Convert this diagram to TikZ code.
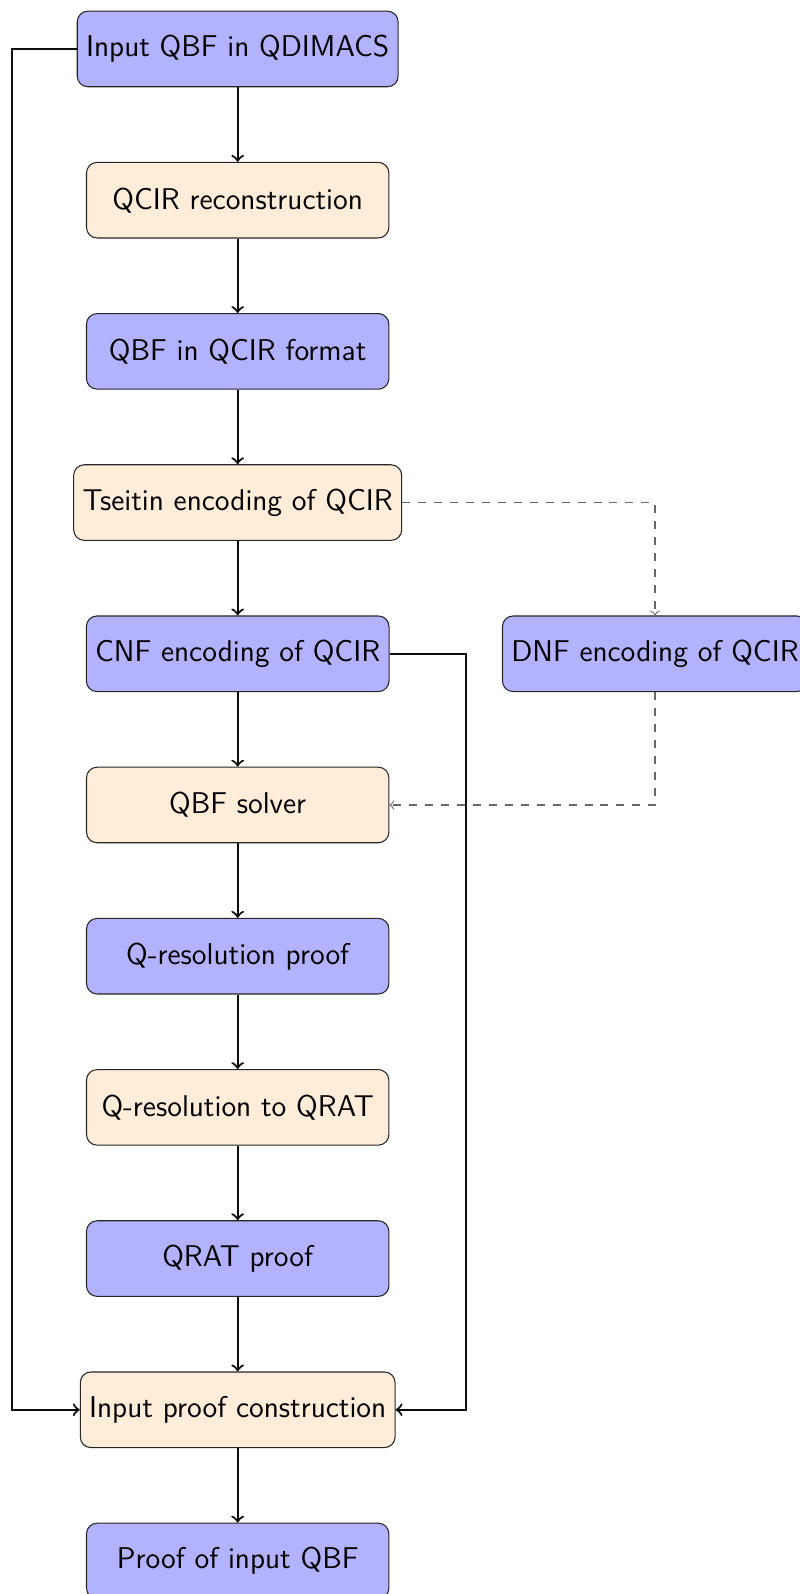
\documentclass[tikz,border=0pt]{standalone}
\usetikzlibrary{positioning}
\begin{document}
\begin{tikzpicture}[
  box/.style={draw=black!85, rounded corners, minimum width=4cm, minimum height=1cm,
    font=\sffamily\fontsize{11.3pt}{13.8pt}\selectfont, inner sep=0.3333em},
  bluebox/.style={box, fill=blue!30},
  orangebox/.style={box, fill=orange!15},
  arr/.style={->, thick, black!95},
  darr/.style={->, dashed, black!60}
]
\useasboundingbox (0,0) rectangle (10.569,-21.085);
\def\cx{3.144}
\node[bluebox]   (in)  at (\cx,-0.648)  {Input QBF in QDIMACS};
\node[orangebox] (rec) at (\cx,-2.648)  {QCIR reconstruction};
\node[bluebox]   (qc)  at (\cx,-4.648)  {QBF in QCIR format};
\node[orangebox] (ts)  at (\cx,-6.648)  {Tseitin encoding of QCIR};
\node[bluebox]   (cnf) at (\cx,-8.648)  {CNF encoding of QCIR};
\node[bluebox]   (dnf) at (8.664,-8.648) {DNF encoding of QCIR};
\node[orangebox] (sol) at (\cx,-10.648) {QBF solver};
\node[bluebox]   (qr)  at (\cx,-12.648) {Q-resolution proof};
\node[orangebox] (q2q) at (\cx,-14.648) {Q-resolution to QRAT};
\node[bluebox]   (qp)  at (\cx,-16.648) {QRAT proof};
\node[orangebox] (ipc) at (\cx,-18.648) {Input proof construction};
\node[bluebox]   (pq)  at (\cx,-20.648) {Proof of input QBF};
\coordinate (L) at (0.159,0);
\coordinate (R) at (6.164,0);
\draw[arr] (in) -- (rec);
\draw[arr] (rec) -- (qc);
\draw[arr] (qc) -- (ts);
\draw[arr] (ts) -- (cnf);
\draw[arr] (cnf) -- (sol);
\draw[arr] (sol) -- (qr);
\draw[arr] (qr) -- (q2q);
\draw[arr] (q2q) -- (qp);
\draw[arr] (qp) -- (ipc);
\draw[arr] (ipc) -- (pq);
\draw[arr] (in.west) -- (in.west -| L) |- (ipc.west);
\draw[arr] (cnf.east) -- (cnf.east -| R) |- (ipc.east);
\draw[darr] (ts.east) -| (dnf.north);
\draw[darr] (dnf.south) |- (sol.east);
\end{tikzpicture}
\end{document}
